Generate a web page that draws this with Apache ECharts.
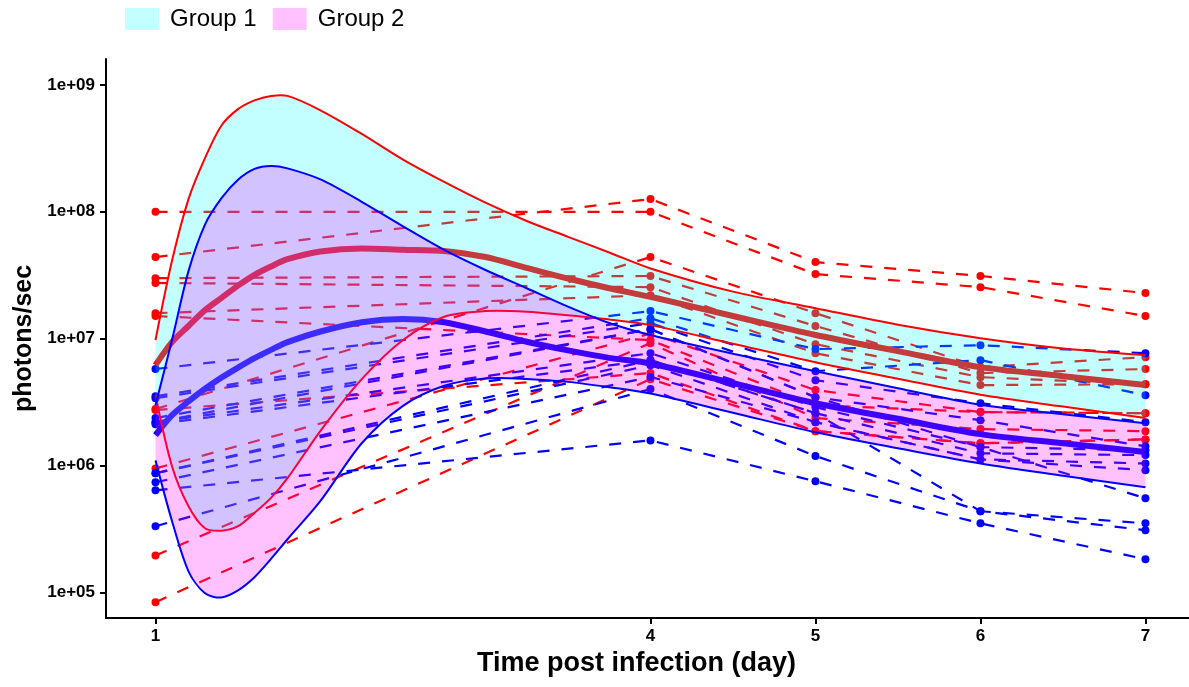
<!DOCTYPE html>
<html><head><meta charset="utf-8">
<script src="https://cdn.jsdelivr.net/npm/echarts@6/dist/echarts.min.js"></script>
<style>html,body{margin:0;padding:0;background:#fff}#c{width:1189px;height:687px}</style>
</head><body><div id="c"></div>
<script>
// ---- data ----
const days = [1, 4, 5, 6, 7];
const xTickValues = [1, 4, 5, 6, 7];
const xTickLabels = ['1', '4', '5', '6', '7'];
const yTickValues = [1e5, 1e6, 1e7, 1e8, 1e9];
const yTickLabels = ['1e+05', '1e+06', '1e+07', '1e+08', '1e+09'];
const groupNames = ['Group 1', 'Group 2'];

// individual subjects, values at days 1,4,5,6,7
const group1Subjects = [
  [1.0e8, 1.0e8, 3.23e7, 2.55e7, 1.51e7],
  [4.4e7, 1.26e8, 4.02e7, 3.12e7, 2.29e7],
  [3.0e7, 3.12e7, 1.26e7, 5.36e6, 5.77e6],
  [2.75e7, 2.55e7, 9.06e6, 4.98e6, 4.38e6],
  [1.59e7, 2.2e7, 7.69e6, 4.31e6, 4.38e6],
  [1.51e7, 9.75e6, 3.0e6, 2.64e6, 2.59e6],
  [2.79e6, 4.4e7, 1.59e7, 5.97e6, 7.16e6],
  [2.74e6, 5.36e6, 1.87e6, 1.50e6, 1.61e6],
  [9.5e5, 1.1e7, 3.94e6, 2.64e6, 2.59e6],
  [1.96e5, 9.23e6, 2.37e6, 1.94e6, 1.87e6],
  [8.4e4, 4.8e6, 1.87e6, 1.50e6, 1.61e6]
];
const group2Subjects = [
  [5.77e6, 1.65e7, 8.28e6, 8.89e6, 7.69e6],
  [3.52e6, 1.45e7, 5.55e6, 6.78e6, 3.59e6],
  [3.40e6, 1.33e7, 4.71e6, 3.10e6, 2.20e6],
  [2.37e6, 1.19e7, 3.46e6, 2.28e6, 1.42e6],
  [2.20e6, 7.69e6, 2.89e6, 1.40e6, 1.32e6],
  [2.12e6, 6.78e6, 2.59e6, 1.25e6, 1.21e6],
  [8.71e5, 6.19e6, 2.20e6, 1.12e6, 1.04e6],
  [7.39e5, 5.0e6, 2.20e6, 1.12e6, 9.20e5],
  [3.33e5, 4.01e6, 1.19e6, 4.37e5, 3.51e5],
  [6.39e5, 1.58e6, 7.53e5, 3.51e5, 1.83e5],
  [2.20e6, 1.19e7, 3.46e6, 1.40e6, 5.53e5],
  [8.71e5, 6.78e6, 2.59e6, 4.37e5, 3.10e5]
];

// smoothed fits and confidence bands
const curveDays = [1, 1.1, 1.2, 1.3, 1.4, 1.5, 1.6, 1.7, 1.8, 2.0, 2.25, 2.5, 2.75, 3.0, 3.25, 3.5, 3.75, 4, 4.5, 5, 5.5, 6, 6.5, 7];
const g1Upper = [9.75e6, 4.11e7, 1.26e8, 2.65e8, 4.79e8, 6.44e8, 7.55e8, 8.19e8, 8.19e8, 6.31e8, 4.11e8, 2.58e8, 1.72e8, 1.18e8, 8.47e7, 6.35e7, 4.78e7, 3.58e7, 2.35e7, 1.74e7, 1.29e7, 1.01e7, 8.38e6, 7.43e6];
const g1Lower = [3.59e6, 9.89e5, 4.79e5, 3.21e5, 3.07e5, 3.33e5, 4.24e5, 5.57e5, 7.96e5, 1.88e6, 4.80e6, 9.77e6, 1.49e7, 1.65e7, 1.63e7, 1.53e7, 1.42e7, 1.28e7, 9.14e6, 6.53e6, 4.84e6, 3.62e6, 2.92e6, 2.37e6];
const g1Mean  = [6.19e6, 9.40e6, 1.26e7, 1.68e7, 2.10e7, 2.62e7, 3.19e7, 3.71e7, 4.23e7, 4.87e7, 5.15e7, 5.03e7, 4.91e7, 4.40e7, 3.61e7, 2.98e7, 2.50e7, 2.14e7, 1.51e7, 1.07e7, 7.98e6, 5.97e6, 5.07e6, 4.31e6];
const g2Upper = [2.99e6, 9.75e6, 3.41e7, 7.93e7, 1.28e8, 1.79e8, 2.18e8, 2.30e8, 2.20e8, 1.80e8, 1.20e8, 7.69e7, 5.01e7, 3.48e7, 2.50e7, 1.79e7, 1.33e7, 1.07e7, 7.62e6, 5.55e6, 4.07e6, 3.02e6, 2.54e6, 2.16e6];
const g2Lower = [1.10e6, 3.66e5, 1.47e5, 9.86e4, 9.14e4, 1.04e5, 1.32e5, 1.84e5, 2.63e5, 5.27e5, 1.50e6, 2.96e6, 4.26e6, 4.86e6, 4.82e6, 4.57e6, 4.15e6, 3.70e6, 2.61e6, 1.83e6, 1.37e6, 1.04e6, 8.32e5, 6.76e5];
const g2Mean  = [1.74e6, 2.50e6, 3.21e6, 4.03e6, 4.94e6, 5.92e6, 7.03e6, 8.17e6, 9.40e6, 1.14e7, 1.35e7, 1.43e7, 1.35e7, 1.14e7, 9.47e6, 8.09e6, 7.06e6, 6.38e6, 4.47e6, 3.10e6, 2.34e6, 1.77e6, 1.50e6, 1.28e6];

// ---- chart ----
const FONT = '"Liberation Sans", Arial, Helvetica, sans-serif';
const RED = '#ff0000', BLUE = '#0000ff';
const CYAN_FILL = 'rgba(0,255,255,0.23)', MAG_FILL = 'rgba(255,0,255,0.24)';
const SMOOTH = 0.3;
function pairs(xs, ys) { return xs.map((x, i) => [x, ys[i]]); }

const series = [];
function subjectSeries(list, color, prefix) {
  list.forEach((vals, i) => series.push({
    type: 'line', name: prefix + i, data: pairs(days, vals), z: 1, silent: true,
    symbol: 'circle', symbolSize: 8, showSymbol: true, showAllSymbol: true,
    lineStyle: { color: color, width: 2.2, type: [12, 12] },
    itemStyle: { color: color }, emphasis: { disabled: true }
  }));
}
subjectSeries(group1Subjects, RED, 'g1s');
subjectSeries(group2Subjects, BLUE, 'g2s');

function curve(name, vals, color, width, z) {
  return { type: 'line', name: name, data: pairs(curveDays, vals), z: z, silent: true,
    symbol: 'none', smooth: SMOOTH, lineStyle: { color: color, width: width }, emphasis: { disabled: true } };
}
series.push(curve('g1mean', g1Mean, RED, 6, 2));
series.push(curve('g2mean', g2Mean, BLUE, 6, 2));

// confidence band: fill + its two boundary lines, all placed through the axes
function ribbon(name, upper, lower, fill, stroke, z) {
  return {
    type: 'custom', name: name, z: z, silent: true,
    data: [[curveDays[0], upper[0]]],
    itemStyle: { color: fill },
    renderItem: function (params, api) {
      const top = curveDays.map((d, i) => api.coord([d, upper[i]]));
      const bot = curveDays.map((d, i) => api.coord([d, lower[i]]));
      const n = top.length;
      // duplicate corner points so the band ends stay straight when smoothed
      const poly = [top[0]].concat(top, [top[n - 1]], [bot[n - 1]], bot.slice().reverse(), [bot[0]]);
      const lineStyle = { stroke: stroke, lineWidth: 2, fill: null };
      return {
        type: 'group',
        children: [
          { type: 'polygon', shape: { points: poly, smooth: SMOOTH }, style: { fill: fill, stroke: null } },
          { type: 'polyline', shape: { points: top, smooth: SMOOTH }, style: lineStyle },
          { type: 'polyline', shape: { points: bot, smooth: SMOOTH }, style: lineStyle }
        ]
      };
    }
  };
}
series.push(ribbon(groupNames[0], g1Upper, g1Lower, CYAN_FILL, RED, 3));
series.push(ribbon(groupNames[1], g2Upper, g2Lower, MAG_FILL, BLUE, 5));

function yLabel(v) {
  const e = v > 100 ? Math.round(Math.log10(v)) : Math.round(v);
  const idx = yTickValues.indexOf(Math.pow(10, e));
  return idx >= 0 ? yTickLabels[idx] : '';
}
function xLabel(v) {
  const idx = xTickValues.indexOf(Math.round(v));
  return idx >= 0 ? xTickLabels[idx] : '';
}

const chart = echarts.init(document.getElementById('c'), null, { renderer: 'canvas' });
chart.setOption({
  animation: false,
  backgroundColor: '#ffffff',
  legend: {
    data: groupNames.map(n => ({ name: n })), left: 120, top: 2, icon: 'rect',
    itemWidth: 34, itemHeight: 22, itemGap: 16, selectedMode: false,
    textStyle: { fontFamily: FONT, fontSize: 24, color: '#000', padding: [0, 0, 0, 6] }
  },
  grid: { left: 106, right: 0, top: 59, bottom: 69, containLabel: false, outerBoundsMode: 'none' },
  xAxis: {
    type: 'value', min: 0.7, max: 7.264,
    axisLine: { show: true, onZero: false, lineStyle: { color: '#000', width: 2 } },
    axisTick: { show: true, length: 6, lineStyle: { color: '#000', width: 2 }, customValues: xTickValues },
    axisLabel: { customValues: xTickValues, formatter: xLabel, fontSize: 17, fontWeight: 'bold', color: '#000', fontFamily: FONT, margin: 10 },
    splitLine: { show: false },
    name: 'Time post infection (day)', nameLocation: 'middle', nameGap: 32,
    nameTextStyle: { fontSize: 27, fontWeight: 'bold', color: '#000', fontFamily: FONT, padding: [0, 22, 0, 0] }
  },
  yAxis: {
    type: 'log', logBase: 10, min: 6.3e4, max: 1.6e9,
    axisLine: { show: true, onZero: false, lineStyle: { color: '#000', width: 2 } },
    axisTick: { show: true, length: 6, lineStyle: { color: '#000', width: 2 }, customValues: yTickValues },
    axisLabel: { customValues: yTickValues, formatter: yLabel, fontSize: 17, fontWeight: 'bold', color: '#000', fontFamily: FONT, margin: 11 },
    splitLine: { show: false }, minorTick: { show: false }, minorSplitLine: { show: false },
    name: 'photons/sec', nameLocation: 'middle', nameGap: 68,
    nameTextStyle: { fontSize: 25, fontWeight: 'bold', color: '#000', fontFamily: FONT }
  },
  series: series
});
</script></body></html>
